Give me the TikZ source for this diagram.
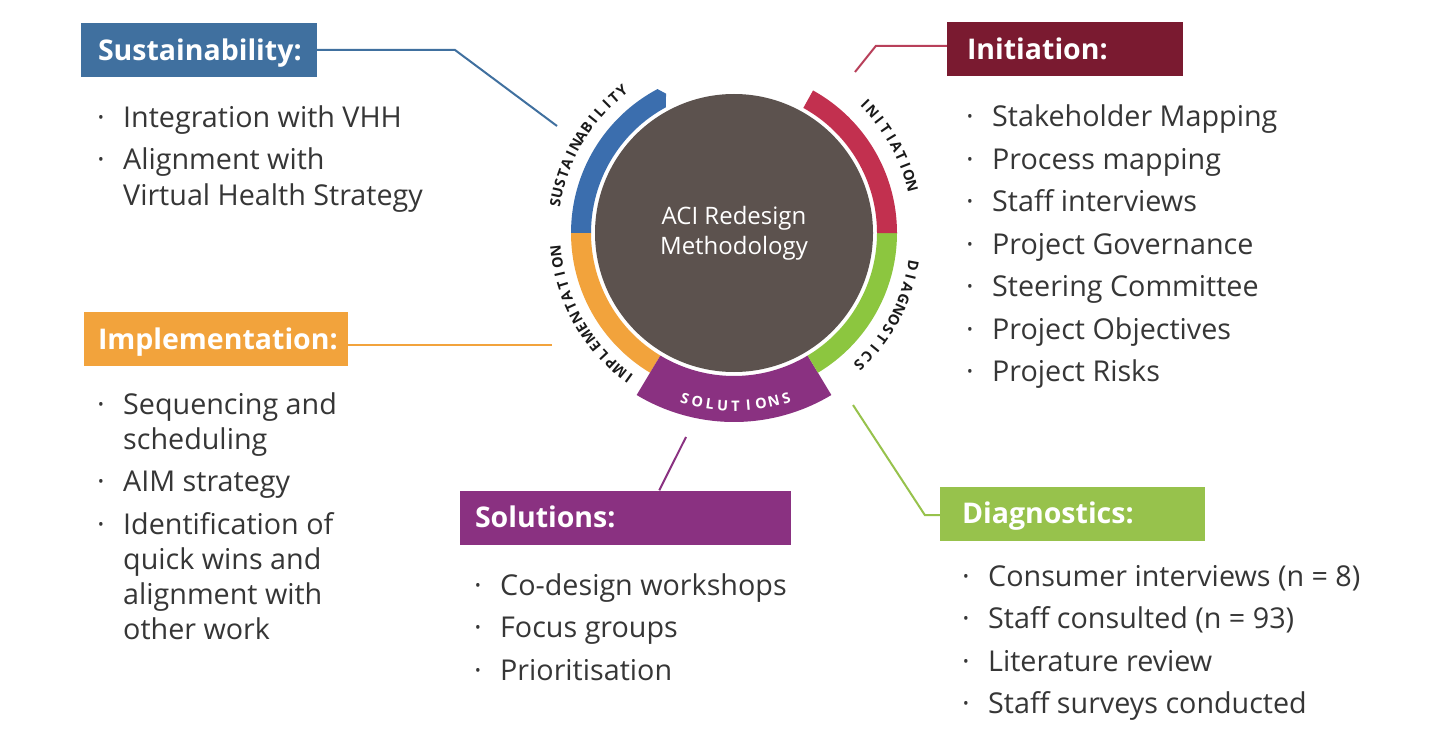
\documentclass[tikz,border=0pt]{standalone}
\usepackage{fontspec}
\setmainfont{Open Sans}
\usetikzlibrary{calc}

\definecolor{susBlue}{HTML}{40709F}
\definecolor{susRing}{HTML}{3B6EAE}
\definecolor{iniDark}{HTML}{7A1A30}
\definecolor{iniRing}{HTML}{C2304F}
\definecolor{iniLine}{HTML}{B8405A}
\definecolor{diaGreen}{HTML}{97C24C}
\definecolor{diaRing}{HTML}{8CC63F}
\definecolor{impOrange}{HTML}{F2A33C}
\definecolor{solPurple}{HTML}{8A3181}
\definecolor{hubGrey}{HTML}{5C524E}
\definecolor{bodyText}{HTML}{363636}
\definecolor{ringInk}{HTML}{1A1A1A}

% bullet hanging to the left of an item
\newcommand\itm[1]{\llap{·\hspace{18.5pt}}#1}
% header text, left aligned inside a box of fixed width
\newcommand\hdrtext[3]{\makebox[#1][l]{\hspace*{#2}#3}}
% letters set one by one around the hub
\newcommand\ringlabel[7]{%
  \foreach \ch [count=\k from 0] in {#2} {%
    \pgfmathsetmacro\ang{#3+\k*(#4)}%
    \node[ringch, text=#7, rotate=\ang+(#6)] (#1-\k) at (\ang:#5pt) {\ch};
  }%
}

\tikzset{
  hdr/.style={rectangle, inner xsep=0pt, inner ysep=0pt, minimum height=54pt,
    text=white, font=\fontsize{28.5}{33}\selectfont\bfseries,
    text height=20.5pt, text depth=0pt},
  blist/.style={inner sep=0pt, anchor=base west, text=bodyText,
    font=\fontsize{28.7}{35}\selectfont},
  conn/.style={line width=2pt},
  ringch/.style={inner sep=0pt, font=\fontsize{14.5}{14.5}\selectfont\bfseries},
}

\begin{document}
\begin{tikzpicture}[x=1pt, y=1pt]
  \fill[white] (0,0) rectangle (1439,-746);
  \useasboundingbox (0,0) rectangle (1439,-746);

  % ---------- hub ----------
  \node[circle, fill=hubGrey, minimum size=278pt, inner sep=0pt,
        text=white, align=center, font=\fontsize{24}{30}\selectfont] (hub) at (734,-233)
        {ACI Redesign\\Methodology};

  \begin{scope}[shift={(734,-233)}]
    % sustainability arc with pointed end
    \fill[susRing] (180:143pt) -- (180:163pt)
      arc[start angle=180, end angle=118, radius=163pt]
      -- (116:155pt) -- (118.5:143pt)
      arc[start angle=118.5, end angle=180, radius=143pt] -- cycle;
    % implementation arc
    \fill[impOrange] (239:143pt) -- (239:163pt)
      arc[start angle=239, end angle=180, radius=163pt]
      -- (180:143pt) arc[start angle=180, end angle=239, radius=143pt] -- cycle;
    % solutions band
    \fill[solPurple] (239:143pt) -- (239:189pt)
      arc[start angle=239, end angle=301, radius=189pt]
      -- (301:143pt) arc[start angle=301, end angle=239, radius=143pt] -- cycle;
    % diagnostics arc
    \fill[diaRing] (301:143pt) -- (301:163pt)
      arc[start angle=301, end angle=360, radius=163pt]
      -- (0:143pt) arc[start angle=360, end angle=301, radius=143pt] -- cycle;
    % initiation arc
    \fill[iniRing] (0:143pt) -- (0:163pt)
      arc[start angle=0, end angle=61, radius=163pt]
      -- (61:143pt) arc[start angle=61, end angle=0, radius=143pt] -- cycle;

    \ringlabel{rs}{S,U,S,T,A,I,N,A,B,I,L,I,T,Y}{170.5}{-3.25}{181}{-90}{ringInk}
    \ringlabel{ri}{I,N,I,T,I,A,T,I,O,N}{44.5}{-3.3}{184}{-90}{ringInk}
    \ringlabel{rd}{D,I,A,G,N,O,S,T,I,C,S}{-10.5}{-3.6}{182}{-90}{ringInk}
    \ringlabel{rm}{I,M,P,L,E,M,E,N,T,A,T,I,O,N}{234}{-3.7}{179}{-90}{ringInk}
    \ringlabel{rl}{S,O,L,U,T,I,O,N,S}{253.5}{4.25}{173}{90}{white}
  \end{scope}

  % ---------- headers ----------
  \node[hdr, fill=susBlue]   (sus)  at (199,-50)    {\hdrtext{236pt}{17pt}{Sustainability:}};
  \node[hdr, fill=iniDark]   (init) at (1065,-49.5) {\hdrtext{236pt}{20pt}{Initiation:}};
  \node[hdr, fill=impOrange] (impl) at (216,-339)   {\hdrtext{264pt}{14pt}{Implementation:}};
  \node[hdr, fill=solPurple] (sol)  at (625.5,-517.5) {\hdrtext{331pt}{15pt}{Solutions:}};
  \node[hdr, fill=diaGreen]  (diag) at (1072.5,-513.5) {\hdrtext{265pt}{22pt}{Diagnostics:}};

  % ---------- bullet lists ----------
  \node[blist] (susList) at (123,-128) {\begin{tabular}[t]{@{}l@{}}
    \itm{Integration with VHH}\\[7pt]
    \itm{Alignment with}\\[1pt]
    Virtual Health Strategy
  \end{tabular}};

  \node[blist] (implList) at (123,-414) {\begin{tabular}[t]{@{}l@{}}
    \itm{Sequencing and}\\
    scheduling\\[7.5pt]
    \itm{AIM strategy}\\[7.5pt]
    \itm{Identification of}\\
    quick wins and\\
    alignment with\\
    other work
  \end{tabular}};

  \node[blist] (solList) at (500,-595) {\begin{tabular}[t]{@{}l@{}}
    \itm{Co-design workshops}\\[7.5pt]
    \itm{Focus groups}\\[7.5pt]
    \itm{Prioritisation}
  \end{tabular}};

  \node[blist] (initList) at (992,-127) {\begin{tabular}[t]{@{}l@{}}
    \itm{Stakeholder Mapping}\\[7.5pt]
    \itm{Process mapping}\\[7.5pt]
    \itm{Staff interviews}\\[7.5pt]
    \itm{Project Governance}\\[7.5pt]
    \itm{Steering Committee}\\[7.5pt]
    \itm{Project Objectives}\\[7.5pt]
    \itm{Project Risks}
  \end{tabular}};

  \node[blist] (diagList) at (988,-586) {\begin{tabular}[t]{@{}l@{}}
    \itm{Consumer interviews (n = 8)}\\[7.5pt]
    \itm{Staff consulted (n = 93)}\\[7.5pt]
    \itm{Literature review}\\[7.5pt]
    \itm{Staff surveys conducted}
  \end{tabular}};

  % ---------- connectors ----------
  \coordinate (susEnd)  at (557,-126);
  \coordinate (initEnd) at (855,-72);
  \coordinate (implEnd) at (552,-345);
  \coordinate (solEnd)  at (686,-437);
  \coordinate (diagEnd) at (853,-405);

  \draw[conn, susBlue]   (sus.east) -- (455,-50) -- (susEnd);
  \draw[conn, iniLine]   ([yshift=3.5pt]init.west) -- ++(-71,0) -- (initEnd);
  \draw[conn, impOrange] ([yshift=-6pt]impl.east) -- (implEnd);
  \draw[conn, solPurple] ($(sol.north west)+(199.5,0)$) -- (solEnd);
  \draw[conn, diaGreen]  ([yshift=-1.5pt]diag.west) -- ++(-15,0) -- (diagEnd);
\end{tikzpicture}
\end{document}
